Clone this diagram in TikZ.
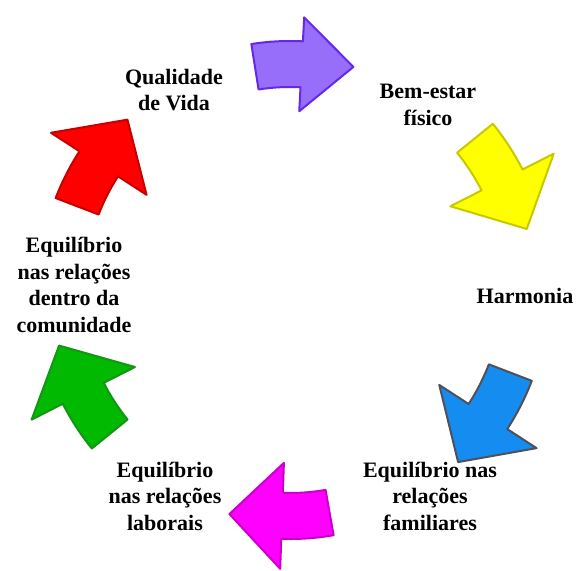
\documentclass[tikz,border=0pt]{standalone}
\usepackage{fontspec}
\setmainfont{Liberation Serif}
\definecolor{roxo}{RGB}{150,110,250}
\definecolor{roxoB}{RGB}{100,40,230}
\definecolor{amarelo}{RGB}{255,255,0}
\definecolor{amareloB}{RGB}{200,200,0}
\definecolor{azul}{RGB}{20,140,240}
\definecolor{azulB}{RGB}{80,80,90}
\definecolor{rosa}{RGB}{255,0,255}
\definecolor{rosaB}{RGB}{200,0,200}
\definecolor{verde}{RGB}{0,185,0}
\definecolor{verdeB}{RGB}{20,150,20}
\definecolor{vermelho}{RGB}{255,0,0}
\definecolor{vermelhoB}{RGB}{200,0,0}
\tikzset{
  lbl/.style={align=center,font=\fontsize{22}{26.5}\selectfont\bfseries},
  seta/.style={line width=2pt,line join=round}
}
\begin{document}
\begin{tikzpicture}
\useasboundingbox (-290pt,-282pt) rectangle (293pt,288pt);
% angle / radius / head half width / colours
\foreach \a/\r/\h/\cf/\cb in {87/224/47/roxo/roxoB,27/238/58/amarelo/amareloB,-33/236/58/azul/azulB,
    -92/228/53/rosa/rosaB,-153/232/58/verde/verdeB,147/228/57/vermelho/vermelhoB}
  \draw[seta,fill=\cf,draw=\cb] ({\a+12}:{\r+23pt}) arc[start angle={\a+12},end angle=\a,radius={\r+23pt}]
    -- (\a:{\r+\h pt}) -- ({\a-13}:{\r+6pt}) -- (\a:{\r-\h pt}) -- (\a:{\r-23pt})
    arc[start angle=\a,end angle={\a+12},radius={\r-23pt}] -- cycle;
\node[lbl] (qualidade) at (-116pt,198pt) {Qualidade\\de Vida};
\node[lbl] (bemestar) at (138pt,183pt) {Bem-estar\\físico};
\node[lbl] (harmonia) at (235pt,-8pt) {Harmonia};
\node[lbl] (familiares) at (140pt,-208pt) {Equilíbrio nas\\relações\\familiares};
\node[lbl] (laborais) at (-125pt,-208pt) {Equilíbrio\\nas relações\\laborais};
\node[lbl] (comunidade) at (-216pt,3pt) {Equilíbrio\\nas relações\\dentro da\\comunidade};
\end{tikzpicture}
\end{document}
